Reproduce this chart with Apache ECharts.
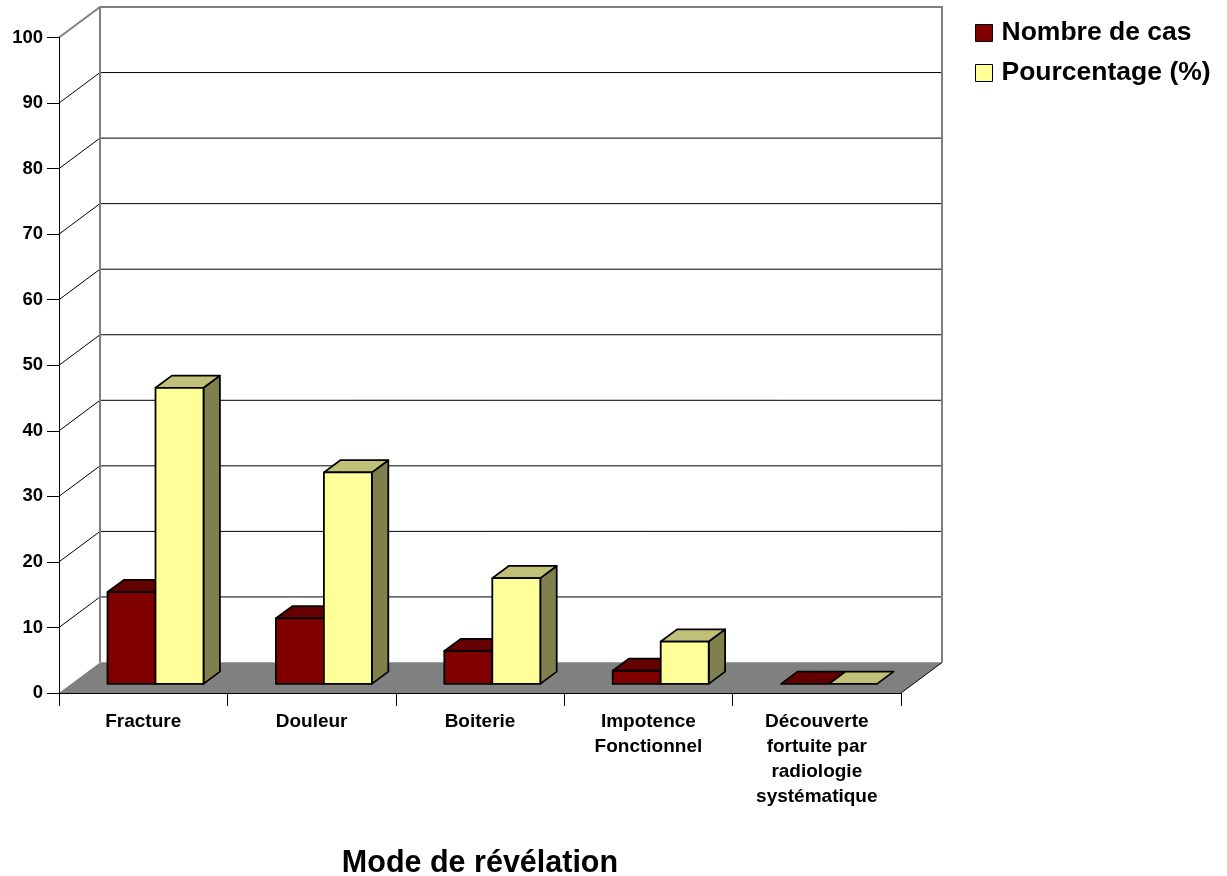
<!DOCTYPE html>
<html>
<head>
<meta charset="utf-8">
<script src="https://cdn.jsdelivr.net/npm/echarts@6/dist/echarts.min.js"></script>
<style>
  html, body { margin: 0; padding: 0; background: #fff; }
  #chart { width: 1227px; height: 876px; }
</style>
</head>
<body>
<div id="chart"></div>
<script>
// Mode de révélation : nombre de cas et pourcentage
const categories = ['Fracture', 'Douleur', 'Boiterie', 'Impotence\nFonctionnel',
  'Découverte\nfortuite par\nradiologie\nsystématique'];
const nombreDeCas = [14, 10, 5, 2, 0];
const pourcentage = [45.16, 32.26, 16.13, 6.45, 0];
const yTicks = [0, 10, 20, 30, 40, 50, 60, 70, 80, 90, 100];

// pseudo-3D depth of the plot box (back wall offset from front plane)
const DX = 41, DY = -30.5;
const FRONT = 0.3;    // depth of the bars' front face (fraction of box depth)
const THICK = 0.4;    // depth of the bars themselves
const BAR_FRAC = 0.285;
const FONT = "'Liberation Sans', Arial, sans-serif";

function wallRenderer(params, api) {
  const cs = params.coordSys;
  const xl = cs.x, xr = cs.x + cs.width;
  const y0 = api.coord([0, 0])[1];
  const yTop = api.coord([0, yTicks[yTicks.length - 1]])[1];
  const children = [];
  // floor
  children.push({
    type: 'polygon',
    shape: { points: [[xl, y0], [xr, y0], [xr + DX, y0 + DY], [xl + DX, y0 + DY]] },
    style: { fill: '#808080', stroke: null }
  });
  // back wall grid lines and side-wall diagonals
  yTicks.forEach(function (t) {
    if (t === 0) return;
    const y = api.coord([0, t])[1];
    const last = t === yTicks[yTicks.length - 1];
    if (!last) {
      children.push({
        type: 'line',
        shape: { x1: xl + DX, y1: y + DY, x2: xr + DX, y2: y + DY },
        style: { stroke: '#000', lineWidth: 1 }
      });
    }
    children.push({
      type: 'line',
      shape: { x1: xl, y1: y, x2: xl + DX, y2: y + DY },
      style: { stroke: last ? '#808080' : '#000', lineWidth: last ? 2 : 1 }
    });
  });
  // wall borders
  children.push({
    type: 'polyline',
    shape: { points: [[xl + DX, y0 + DY], [xl + DX, yTop + DY], [xr + DX, yTop + DY], [xr + DX, y0 + DY]] },
    style: { stroke: '#808080', lineWidth: 2, fill: null }
  });
  children.push({
    type: 'line',
    shape: { x1: xl + DX, y1: y0 + DY, x2: xr + DX, y2: y0 + DY },
    style: { stroke: '#a0a0a0', lineWidth: 1 }
  });
  // floor right edge
  children.push({
    type: 'line',
    shape: { x1: xr, y1: y0, x2: xr + DX, y2: y0 + DY },
    style: { stroke: '#000', lineWidth: 1 }
  });
  return { type: 'group', children: children };
}

function barRenderer(pos, front, top, side) {
  return function (params, api) {
    const ci = api.value(0), v = api.value(1);
    const base = api.coord([ci, 0]);
    const tip = api.coord([ci, v]);
    const band = api.size([1, 0])[0];
    const w = band * BAR_FRAC;
    const fx = DX * FRONT, fy = DY * FRONT, bx = DX * THICK, by = DY * THICK;
    const x0 = base[0] + fx + pos * w, x1 = x0 + w;
    const yb = base[1] + fy, yt = tip[1] + fy;
    const line = { stroke: '#000', lineWidth: 1.8, lineJoin: 'round' };
    const children = [];
    if (yb - yt > 0.5) {
      children.push({
        type: 'polygon',
        shape: { points: [[x1, yt], [x1 + bx, yt + by], [x1 + bx, yb + by], [x1, yb]] },
        style: Object.assign({ fill: side }, line)
      });
    }
    children.push({
      type: 'polygon',
      shape: { points: [[x0, yt], [x1, yt], [x1 + bx, yt + by], [x0 + bx, yt + by]] },
      style: Object.assign({ fill: top }, line)
    });
    if (yb - yt > 0.5) {
      children.push({
        type: 'rect',
        shape: { x: x0, y: yt, width: w, height: yb - yt },
        style: Object.assign({ fill: front }, line)
      });
    }
    return { type: 'group', children: children };
  };
}

const chart = echarts.init(document.getElementById('chart'));
chart.setOption({
  animation: false,
  backgroundColor: '#fff',
  grid: { left: 59, right: 326, top: 37.5, bottom: 183, containLabel: false, outerBoundsMode: 'none' },
  legend: {
    data: ['Nombre de cas', 'Pourcentage (%)'],
    orient: 'vertical',
    left: 970,
    top: 13,
    itemWidth: 17,
    itemHeight: 17,
    itemGap: 10,
    icon: 'rect',
    itemStyle: { borderColor: '#000', borderWidth: 1 },
    textStyle: { fontFamily: FONT, fontWeight: 'bold', fontSize: 26.5, lineHeight: 30, color: '#000', padding: [0, 0, 0, 4] }
  },
  xAxis: {
    type: 'category',
    data: categories,
    z: 10,
    axisLine: { show: true, lineStyle: { color: '#000', width: 1 } },
    axisTick: { show: true, length: 13, lineStyle: { color: '#000' } },
    axisLabel: {
      fontFamily: FONT, fontWeight: 'bold', fontSize: 19, lineHeight: 25, color: '#000',
      margin: 16, interval: 0, align: 'center'
    },
    splitLine: { show: false },
    name: 'Mode de révélation',
    nameLocation: 'middle',
    nameGap: 155,
    nameTextStyle: { fontFamily: FONT, fontWeight: 'bold', fontSize: 30.5, color: '#000' }
  },
  yAxis: {
    type: 'value',
    min: 0,
    max: 100,
    interval: 10,
    z: 10,
    axisLine: { show: true, lineStyle: { color: '#000', width: 1 } },
    axisTick: { show: true, length: 12, lineStyle: { color: '#000' } },
    axisLabel: { fontFamily: FONT, fontWeight: 'bold', fontSize: 18.5, color: '#000', margin: 16 },
    splitLine: { show: false }
  },
  series: [
    {
      type: 'custom',
      name: 'wall',
      z: 1,
      clip: false,
      silent: true,
      renderItem: wallRenderer,
      data: [[0, 0]],
      encode: { x: 0, y: 1 }
    },
    {
      type: 'custom',
      name: 'Nombre de cas',
      z: 3,
      clip: false,
      itemStyle: { color: '#800000' },
      renderItem: barRenderer(-1, '#800000', '#640000', '#400000'),
      data: nombreDeCas.map(function (v, i) { return [i, v]; }),
      encode: { x: 0, y: 1 }
    },
    {
      type: 'custom',
      name: 'Pourcentage (%)',
      z: 4,
      clip: false,
      itemStyle: { color: '#FFFF99' },
      renderItem: barRenderer(0, '#FFFF99', '#C0C078', '#80804C'),
      data: pourcentage.map(function (v, i) { return [i, v]; }),
      encode: { x: 0, y: 1 }
    }
  ]
});
</script>
</body>
</html>
